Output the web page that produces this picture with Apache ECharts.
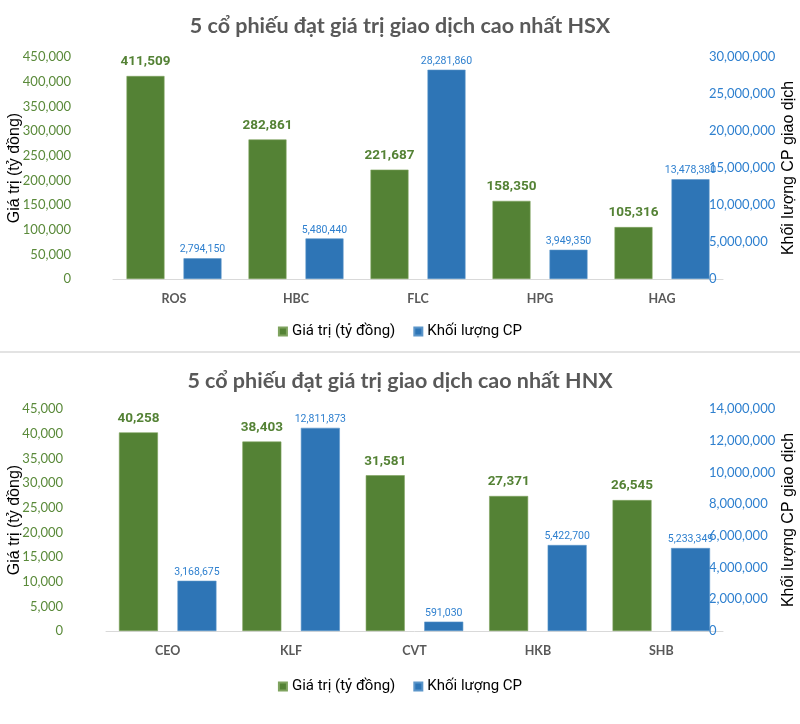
<!DOCTYPE html>
<html>
<head>
<meta charset="utf-8">
<script src="https://cdn.jsdelivr.net/npm/echarts@6/dist/echarts.min.js"></script>
<style>
html,body{margin:0;padding:0;background:#fff;}
#c1{width:800px;height:351px;}
#sep{width:800px;height:0;border-top:2px solid #e3e3e3;}
#c2{width:800px;height:371px;}
</style>
</head>
<body>
<div id="c1"></div>
<div id="sep"></div>
<div id="c2"></div>
<script>
// ---- Data: HSX ----
const hsxTitle = '5 cổ phiếu đạt giá trị giao dịch cao nhất HSX';
const hsxCategories = ['ROS', 'HBC', 'FLC', 'HPG', 'HAG'];
const hsxValue = [411509, 282861, 221687, 158350, 105316];
const hsxVolume = [2794150, 5480440, 28281860, 3949350, 13478380];

// ---- Data: HNX ----
const hnxTitle = '5 cổ phiếu đạt giá trị giao dịch cao nhất HNX';
const hnxCategories = ['CEO', 'KLF', 'CVT', 'HKB', 'SHB'];
const hnxValue = [40258, 38403, 31581, 27371, 26545];
const hnxVolume = [3168675, 12811873, 591030, 5422700, 5233349];

const seriesNames = ['Giá trị (tỷ đồng)', 'Khối lượng CP'];
const leftAxisName = 'Giá trị (tỷ đồng)';
const rightAxisName = 'Khối lượng CP giao dịch';

const GREEN = '#548235';
const BLUE = '#2e75b6';
const GREEN_TXT = '#5a8a3a';
const BLUE_TXT = '#2f80cf';

function fmt(v) {
  return String(v).replace(/\B(?=(\d{3})+(?!\d))/g, ',');
}

function build(cfg) {
  return {
    animation: false,
    title: {
      text: cfg.title, left: 'center', top: cfg.titleTop,
      textStyle: { fontFamily: 'Lato', fontWeight: 'bold', fontSize: 21.5, color: '#595959' }
    },
    legend: {
      data: seriesNames, left: 'center', top: cfg.legendTop,
      itemWidth: 8, itemHeight: 8, itemGap: 18, icon: 'rect',
      textStyle: { fontFamily: 'Roboto', fontSize: 15, color: '#000' }
    },
    grid: {
      left: cfg.gridLeft, right: cfg.gridRight, top: cfg.gridTop, height: 222,
      containLabel: false, outerBoundsMode: 'none'
    },
    xAxis: {
      type: 'category', data: cfg.categories,
      axisLine: { lineStyle: { color: '#d9d9d9', width: 1 } },
      axisTick: { show: false },
      axisLabel: { margin: 13, fontFamily: 'Lato', fontWeight: 'bold', fontSize: 12.5, color: '#595959' }
    },
    yAxis: [
      {
        type: 'value', min: 0, max: cfg.leftMax, interval: cfg.leftInterval,
        name: leftAxisName, nameLocation: 'middle', nameGap: cfg.leftNameGap, nameMoveOverlap: false,
        nameTextStyle: { fontFamily: 'Liberation Sans', fontSize: 16, color: '#000' },
        splitLine: { show: false }, axisLine: { show: false }, axisTick: { show: false },
        axisLabel: { margin: cfg.leftMargin, fontFamily: 'Lato', fontSize: 13, color: GREEN_TXT, formatter: fmt }
      },
      {
        type: 'value', min: 0, max: cfg.rightMax, interval: cfg.rightInterval,
        position: 'right', offset: -14,
        name: rightAxisName, nameLocation: 'middle', nameGap: 72, nameMoveOverlap: false,
        nameTextStyle: { fontFamily: 'Liberation Sans', fontSize: 16, color: '#000' },
        splitLine: { show: false }, axisLine: { show: false }, axisTick: { show: false },
        axisLabel: { margin: 0, fontFamily: 'Lato', fontSize: 13, color: BLUE_TXT, formatter: fmt }
      }
    ],
    series: [
      {
        name: seriesNames[0], type: 'bar', yAxisIndex: 0, data: cfg.value,
        barWidth: cfg.barWidth, barGap: '50%',
        itemStyle: { color: GREEN, borderColor: '#7fa35f', borderWidth: 0.6 },
        label: {
          show: true, position: 'top', distance: 7,
          fontFamily: 'Roboto', fontWeight: 'bold', fontSize: 13.5, color: GREEN,
          formatter: p => fmt(p.value)
        }
      },
      {
        name: seriesNames[1], type: 'bar', yAxisIndex: 1, data: cfg.volume,
        barWidth: cfg.barWidth, barGap: '50%',
        itemStyle: { color: BLUE, borderColor: '#5b95c9', borderWidth: 0.6 },
        label: {
          show: true, position: 'top', distance: 3,
          fontFamily: 'Roboto', fontSize: 10.5, color: BLUE_TXT,
          formatter: p => fmt(p.value)
        }
      }
    ]
  };
}

const c1 = echarts.init(document.getElementById('c1'), null, { renderer: 'canvas' });
c1.setOption(build({
  title: hsxTitle, titleTop: 10, legendTop: 319,
  gridLeft: 113, gridRight: 77, gridTop: 57,
  categories: hsxCategories, value: hsxValue, volume: hsxVolume,
  leftMax: 450000, leftInterval: 50000, rightMax: 30000000, rightInterval: 5000000,
  leftNameGap: 90, leftMargin: 42, barWidth: 38
}));

const c2 = echarts.init(document.getElementById('c2'), null, { renderer: 'canvas' });
c2.setOption(build({
  title: hnxTitle, titleTop: 12, legendTop: 321,
  gridLeft: 106, gridRight: 77, gridTop: 56,
  categories: hnxCategories, value: hnxValue, volume: hnxVolume,
  leftMax: 45000, leftInterval: 5000, rightMax: 14000000, rightInterval: 2000000,
  leftNameGap: 83, leftMargin: 43, barWidth: 39
}));
</script>
</body>
</html>
